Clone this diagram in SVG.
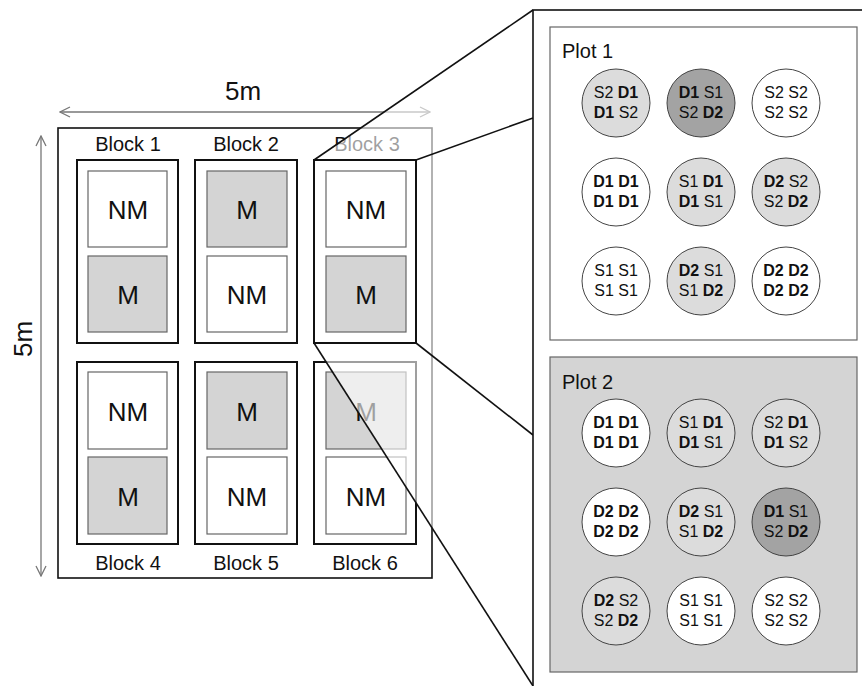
<svg xmlns="http://www.w3.org/2000/svg" width="862" height="686" viewBox="0 0 862 686">
<defs>
<style>
text{font-family:"Liberation Sans",Arial,sans-serif;fill:#111}
.blk{fill:#fff;stroke:#111;stroke-width:2}
.nm{fill:#fff;stroke:#666;stroke-width:1.2}
.m{fill:#d4d4d4;stroke:#666;stroke-width:1.2}
.lab{font-size:20px;text-anchor:middle}
.big{font-size:26px;text-anchor:middle}
.dim{stroke:#777;stroke-width:1.3;fill:none}
.con{stroke:#111;stroke-width:1.6;fill:none}
.c{stroke:#444;stroke-width:1}
.w{fill:#fff}.l{fill:#dcdcdc}.d{fill:#a3a3a3}
.ct{font-size:16px;text-anchor:middle}
.b{font-weight:bold}
.pt{font-size:20px}
</style>
<marker id="ah" markerWidth="12" markerHeight="12" refX="11" refY="6" orient="auto-start-reverse" markerUnits="userSpaceOnUse">
<path d="M1,1 L11,6 L1,11" fill="none" stroke="#777" stroke-width="1.3"/>
</marker>
</defs>

<g id="field">
<rect x="58" y="128" width="374" height="450" fill="#fff" stroke="#111" stroke-width="1.6"/>
<line class="dim" x1="60" y1="112" x2="430" y2="112" marker-start="url(#ah)" marker-end="url(#ah)"/>
<text x="243" y="100" font-size="26" text-anchor="middle">5m</text>
<line class="dim" x1="41" y1="136" x2="41" y2="576" marker-start="url(#ah)" marker-end="url(#ah)"/>
<text x="0" y="0" font-size="26" text-anchor="middle" transform="translate(32,339) rotate(-90)">5m</text>
</g>

<g id="block1">
<text class="lab" x="128" y="151">Block 1</text>
<rect class="blk" x="77" y="160" width="101" height="183"/>
<rect class="nm" x="88" y="171" width="79" height="76"/><text class="big" x="128" y="219">NM</text>
<rect class="m" x="88" y="256" width="79" height="76"/><text class="big" x="128" y="304">M</text>
</g>
<g id="block2">
<text class="lab" x="246" y="151">Block 2</text>
<rect class="blk" x="195" y="160" width="102" height="183"/>
<rect class="m" x="207" y="171" width="80" height="76"/><text class="big" x="247" y="219">M</text>
<rect class="nm" x="207" y="256" width="80" height="76"/><text class="big" x="247" y="304">NM</text>
</g>
<g id="block3label">
<text class="lab" x="367" y="151">Block 3</text>
</g>
<g id="block4">
<rect class="blk" x="77" y="362" width="101" height="182"/>
<rect class="nm" x="88" y="372" width="79" height="77"/><text class="big" x="128" y="421">NM</text>
<rect class="m" x="88" y="457" width="79" height="77"/><text class="big" x="128" y="506">M</text>
<text class="lab" x="128" y="570">Block 4</text>
</g>
<g id="block5">
<rect class="blk" x="195" y="362" width="102" height="182"/>
<rect class="m" x="207" y="372" width="80" height="77"/><text class="big" x="247" y="421">M</text>
<rect class="nm" x="207" y="457" width="80" height="77"/><text class="big" x="247" y="506">NM</text>
<text class="lab" x="246" y="570">Block 5</text>
</g>
<g id="block6">
<rect class="blk" x="314" y="362" width="102" height="182"/>
<rect class="m" x="326" y="372" width="80" height="77"/><text class="big" x="366" y="421">M</text>
<rect class="nm" x="326" y="457" width="80" height="77"/><text class="big" x="366" y="506">NM</text>
<text class="lab" x="365" y="570">Block 6</text>
</g>

<polygon id="veil" points="314,160 533,10 533,686 314,343" fill="#fff" fill-opacity="0.6"/>

<g id="block3">
<rect class="blk" x="314" y="160" width="102" height="183"/>
<rect class="nm" x="326" y="171" width="80" height="76"/><text class="big" x="366" y="219">NM</text>
<rect class="m" x="326" y="256" width="80" height="76"/><text class="big" x="366" y="304">M</text>
</g>

<g id="connectors">
<line class="con" x1="314" y1="160" x2="533" y2="10"/>
<line class="con" x1="416" y1="160" x2="533" y2="118"/>
<line class="con" x1="416" y1="343" x2="533" y2="435"/>
<line class="con" x1="314" y1="343" x2="533" y2="686"/>
</g>

<g id="zoom">
<rect x="533" y="10" width="340" height="690" fill="#fff" stroke="#111" stroke-width="1.6"/>
</g>

<g id="plot1">
<rect x="550" y="27" width="307" height="313" fill="#fff" stroke="#666" stroke-width="1.2"/>
<text class="pt" x="562" y="58">Plot 1</text>
<circle class="c l" cx="616" cy="103" r="34"/>
<text class="ct" x="616" y="98">S2 <tspan class="b">D1</tspan></text><text class="ct" x="616" y="118"><tspan class="b">D1</tspan> S2</text>
<circle class="c d" cx="701" cy="103" r="34"/>
<text class="ct" x="701" y="98"><tspan class="b">D1</tspan> S1</text><text class="ct" x="701" y="118">S2 <tspan class="b">D2</tspan></text>
<circle class="c w" cx="786" cy="103" r="34"/>
<text class="ct" x="786" y="98">S2 S2</text><text class="ct" x="786" y="118">S2 S2</text>

<circle class="c w" cx="616" cy="192" r="34"/>
<text class="ct b" x="616" y="187">D1 D1</text><text class="ct b" x="616" y="207">D1 D1</text>
<circle class="c l" cx="701" cy="192" r="34"/>
<text class="ct" x="701" y="187">S1 <tspan class="b">D1</tspan></text><text class="ct" x="701" y="207"><tspan class="b">D1</tspan> S1</text>
<circle class="c l" cx="786" cy="192" r="34"/>
<text class="ct" x="786" y="187"><tspan class="b">D2</tspan> S2</text><text class="ct" x="786" y="207">S2 <tspan class="b">D2</tspan></text>

<circle class="c w" cx="616" cy="281" r="34"/>
<text class="ct" x="616" y="276">S1 S1</text><text class="ct" x="616" y="296">S1 S1</text>
<circle class="c l" cx="701" cy="281" r="34"/>
<text class="ct" x="701" y="276"><tspan class="b">D2</tspan> S1</text><text class="ct" x="701" y="296">S1 <tspan class="b">D2</tspan></text>
<circle class="c w" cx="786" cy="281" r="34"/>
<text class="ct b" x="786" y="276">D2 D2</text><text class="ct b" x="786" y="296">D2 D2</text>
</g>

<g id="plot2">
<rect x="550" y="357" width="307" height="315" fill="#d4d4d4" stroke="#666" stroke-width="1.2"/>
<text class="pt" x="562" y="389">Plot 2</text>
<circle class="c w" cx="616" cy="433" r="34"/>
<text class="ct b" x="616" y="428">D1 D1</text><text class="ct b" x="616" y="448">D1 D1</text>
<circle class="c l" cx="701" cy="433" r="34"/>
<text class="ct" x="701" y="428">S1 <tspan class="b">D1</tspan></text><text class="ct" x="701" y="448"><tspan class="b">D1</tspan> S1</text>
<circle class="c l" cx="786" cy="433" r="34"/>
<text class="ct" x="786" y="428">S2 <tspan class="b">D1</tspan></text><text class="ct" x="786" y="448"><tspan class="b">D1</tspan> S2</text>

<circle class="c w" cx="616" cy="522" r="34"/>
<text class="ct b" x="616" y="517">D2 D2</text><text class="ct b" x="616" y="537">D2 D2</text>
<circle class="c l" cx="701" cy="522" r="34"/>
<text class="ct" x="701" y="517"><tspan class="b">D2</tspan> S1</text><text class="ct" x="701" y="537">S1 <tspan class="b">D2</tspan></text>
<circle class="c d" cx="786" cy="522" r="34"/>
<text class="ct" x="786" y="517"><tspan class="b">D1</tspan> S1</text><text class="ct" x="786" y="537">S2 <tspan class="b">D2</tspan></text>

<circle class="c l" cx="616" cy="611" r="34"/>
<text class="ct" x="616" y="606"><tspan class="b">D2</tspan> S2</text><text class="ct" x="616" y="626">S2 <tspan class="b">D2</tspan></text>
<circle class="c w" cx="701" cy="611" r="34"/>
<text class="ct" x="701" y="606">S1 S1</text><text class="ct" x="701" y="626">S1 S1</text>
<circle class="c w" cx="786" cy="611" r="34"/>
<text class="ct" x="786" y="606">S2 S2</text><text class="ct" x="786" y="626">S2 S2</text>
</g>
</svg>
